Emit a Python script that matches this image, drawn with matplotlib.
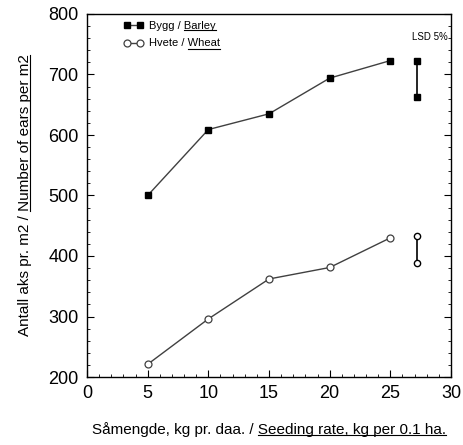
import matplotlib
matplotlib.use("Agg")
import matplotlib.pyplot as plt
from matplotlib.lines import Line2D
from matplotlib.transforms import IdentityTransform
from matplotlib.ticker import MultipleLocator

plt.rcParams['font.family'] = ['Liberation Sans', 'DejaVu Sans']

seed_rate = [5, 10, 15, 20, 25]
barley = [500, 609, 635, 694, 723]
wheat = [221, 296, 362, 381, 430]

lsd_x = 27.2
lsd_barley = [663, 723]
lsd_wheat = [388, 433]

fig = plt.figure(figsize=(4.63, 4.45), dpi=100)
ax = fig.add_axes([87/463, 1 - 377/445, (451-87)/463, (377-14)/445])

line_col = '#404040'
ax.plot(seed_rate, barley, color=line_col, lw=1, marker='s', ms=4,
        mfc='black', mec='black', label='Bygg / Barley')
ax.plot(seed_rate, wheat, color=line_col, lw=1, marker='o', ms=5,
        mfc='white', mec=line_col, mew=0.9, label='Hvete / Wheat')

ax.plot([lsd_x, lsd_x], lsd_barley, color='black', lw=1.2, marker='s', ms=4, mfc='black')
ax.plot([lsd_x, lsd_x], lsd_wheat, color='black', lw=1.2, marker='o', ms=4.5,
        mfc='white', mec='black', mew=1)
ax.text(28.3, 762, 'LSD 5%', fontsize=7, ha='center', va='center')

ax.set_xlim(0, 30)
ax.set_ylim(200, 800)
ax.xaxis.set_major_locator(MultipleLocator(5))
ax.xaxis.set_minor_locator(MultipleLocator(1))
ax.yaxis.set_major_locator(MultipleLocator(100))
ax.yaxis.set_minor_locator(MultipleLocator(20))
ax.tick_params(which='both', direction='in', right=True, labelsize=13)
ax.tick_params(which='major', length=5)
ax.tick_params(which='minor', length=2.5)
ax.tick_params(axis='x', pad=6)
ax.tick_params(axis='y', pad=6)
for s in ax.spines.values():
    s.set_linewidth(1)

xlab = ax.set_xlabel('Såmengde, kg pr. daa. / Seeding rate, kg per 0.1 ha.',
                     fontsize=11, labelpad=14)
ylab = ax.set_ylabel('Antall aks pr. m2 / Number of ears per m2',
                     fontsize=11, labelpad=12)

leg = ax.legend(loc='upper left', bbox_to_anchor=(0.08, 1.0), frameon=False, fontsize=8,
                numpoints=2, handlelength=1.8, handletextpad=0.5, borderaxespad=0.25,
                labelspacing=0.65)


# underline the English part of a text (matplotlib has no underline style)
def underline(t, part, vertical=False):
    r = fig.canvas.get_renderer()
    bb = t.get_window_extent(r)
    w, h, d = r.get_text_width_height_descent(part, t.get_fontproperties(), ismath=False)
    if vertical:
        x = bb.x1 - d + 1
        xs, ys = [x, x], [bb.y1 - w, bb.y1]
    else:
        y = bb.y0 + d - 1
        xs, ys = [bb.x1 - w, bb.x1], [y, y]
    fig.add_artist(Line2D(xs, ys, transform=IdentityTransform(), color='black', lw=0.8))


fig.canvas.draw()
underline(xlab, 'Seeding rate, kg per 0.1 ha.')
underline(ylab, 'Number of ears per m2', vertical=True)
underline(leg.get_texts()[0], 'Barley')
underline(leg.get_texts()[1], 'Wheat')

fig.savefig('out.png', dpi=100)
